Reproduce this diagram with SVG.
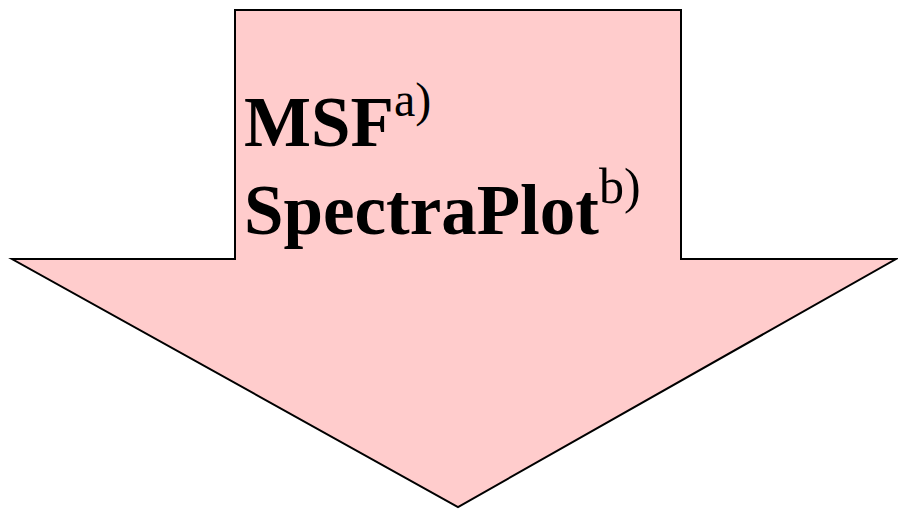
<svg xmlns="http://www.w3.org/2000/svg" width="898" height="509" viewBox="0 0 898 509">
<style>
.arrow{fill:#FFCCCC;stroke:#000;stroke-width:2;stroke-linejoin:miter}
.t{font-family:"Liberation Serif","Times New Roman",serif;font-weight:bold;fill:#000}
.s{font-weight:normal}
</style>
<rect width="898" height="509" fill="#fff"/>
<g id="arrow">
<polygon class="arrow" points="235,10 681,10 681,259 896,259 458,507 12,259 235,259"/>
</g>
<g id="label">
<text class="t" x="244" y="146" font-size="71">MSF<tspan class="s" font-size="48" dy="-30">a)</tspan></text>
<text class="t" x="244" y="234" font-size="71">SpectraPlot<tspan class="s" font-size="50" dy="-31">b)</tspan></text>
</g>
</svg>
